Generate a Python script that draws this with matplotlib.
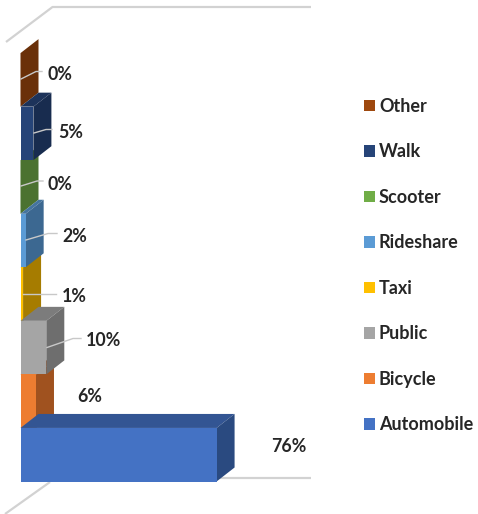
import matplotlib
matplotlib.use('Agg')
import matplotlib.pyplot as plt
from matplotlib.patches import Polygon, Patch
from matplotlib.transforms import Affine2D

categories = ['Automobile', 'Bicycle', 'Public', 'Taxi', 'Rideshare', 'Scooter', 'Walk', 'Other']
values = [76, 6, 10, 1, 2, 0, 5, 0]
labels = ['76%', '6%', '10%', '1%', '2%', '0%', '5%', '0%']

front_colors = ['#4472c4', '#ed7d31', '#a5a5a5', '#ffc000', '#5b9bd5', '#70ad47', '#264478', '#9e480e']
side_colors = ['#2a4a80', '#a0521f', '#6e6e6e', '#a67c00', '#3c6891', '#4b7230', '#182c4f', '#6a3009']
top_colors = ['#335593', '#b2591f', '#7c7c7c', '#bc8f00', '#44749f', '#557f37', '#1d335a', '#6a3009']

W, H = 478, 514
X0, Y0 = 20.5, 481.5      # pixel position of value 0 / bottom of the first bar
PX_PER_PCT, PX_PER_BAR = 2.58, 53.55
DEPTH_X, DEPTH_Y = 18 / PX_PER_PCT, 14 / PX_PER_BAR

plt.rcParams['font.family'] = ['Lato', 'DejaVu Sans']
fig = plt.figure(figsize=(W / 100, H / 100), dpi=100)
ax = fig.add_axes([0, 0, 1, 1])
ax.set_xlim(-X0 / PX_PER_PCT, (W - X0) / PX_PER_PCT)
ax.set_ylim(-0.5 - (H - Y0) / PX_PER_BAR, -0.5 + Y0 / PX_PER_BAR)
ax.axis('off')

# pixel coordinates, origin top left, for walls, leaders and labels
px = Affine2D().scale(1, -1).translate(0, H)

wall = dict(color='#d2d2d2', lw=1.6, transform=px, zorder=1, solid_capstyle='butt')
ax.plot([6, 52.5, 311], [42, 7, 7], **wall)
ax.plot([5, 50], [514, 482], **wall)
ax.plot([218, 311], [478, 478], **wall)

# the smaller bars go behind the bigger ones, as the 3D chart stacks them
order = sorted(range(len(values)), key=lambda k: values[k])
for rank, i in enumerate(order):
    v = values[i]
    lo, hi = i - 0.5, i + 0.5
    side = [(v, lo), (v + DEPTH_X, lo + DEPTH_Y), (v + DEPTH_X, hi + DEPTH_Y), (v, hi)]
    top = [(0, hi), (DEPTH_X, hi + DEPTH_Y), (v + DEPTH_X, hi + DEPTH_Y), (v, hi)]
    ax.add_patch(Polygon(top, color=top_colors[i], lw=0, zorder=2 + rank * 3))
    ax.add_patch(Polygon(side, color=side_colors[i], lw=0, zorder=3 + rank * 3))
    ax.barh(i, v, height=1, color=front_colors[i], lw=0, zorder=4 + rank * 3)

# leader lines, only where the label sits away from the bar
leaders = {
    7: [(21, 79), (36, 71.5), (42, 71.5)],
    6: [(34, 133), (46, 129.5), (52, 129.5)],
    5: [(21, 186), (37, 181), (43, 181)],
    4: [(26, 240), (48, 233.5), (57, 233.5)],
    3: [(23, 293.5), (56, 293.5)],
    2: [(47, 347.5), (73, 338.5), (81, 338.5)],
}
for pts in leaders.values():
    ax.plot(*zip(*pts), color='#c8c8c8', lw=1, transform=px, zorder=40)

label_pos = [(271, 447), (77, 397), (86, 341), (62, 296), (62, 236), (47, 184), (58, 132), (47, 74)]
for lab, (lx, ly) in zip(labels, label_pos):
    ax.text(lx, ly, lab, transform=px, fontsize=12.8, fontweight='bold', color='#262626',
            ha='left', va='center', zorder=41)

handles = [Patch(color=c, lw=0) for c in reversed(front_colors)]
leg = ax.legend(handles, list(reversed(categories)), loc='upper left',
                bbox_to_anchor=(364 / W, 1 - 98 / H), borderaxespad=0, borderpad=0,
                frameon=False, handlelength=0.61, handleheight=0.61, handletextpad=0.22,
                labelspacing=1.577, prop=dict(size=13, weight='bold'), labelcolor='#262626')

fig.savefig('out.png', dpi=100)
